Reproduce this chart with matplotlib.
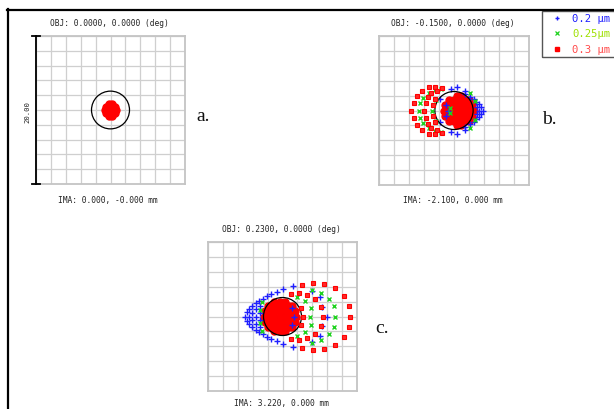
import matplotlib
matplotlib.use("Agg")
import matplotlib.pyplot as plt
from matplotlib.patches import Circle, Rectangle
from matplotlib.lines import Line2D

# ---------------------------------------------------------------- data (um)
# panel a: on-axis field, everything inside a tiny red spot
a_red_x = [0, 0.4, 0.2, -0.2, -0.4, -0.2, 0.2,
           0.8, 0.65, 0.25, -0.25, -0.65, -0.8, -0.65, -0.25, 0.25, 0.65]
a_red_y = [0, 0, 0.35, 0.35, 0, -0.35, -0.35,
           0, 0.47, 0.76, 0.76, 0.47, 0, -0.47, -0.76, -0.76, -0.47]

# panel b: field -0.15 deg
b_red_core_x = [-1.3, -0.65, 0, 0.65, 1.3, 1.95, 2.6,
                -1.15, -0.45, 0.25, 0.95, 1.65, 2.4,
                -1.15, -0.45, 0.25, 0.95, 1.65, 2.4,
                -0.7, 0, 0.7, 1.35, 2.0,
                -0.7, 0, 0.7, 1.35, 2.0,
                0.35, 0.95, 0.35, 0.95]
b_red_core_y = [0, 0, 0, 0, 0, 0, 0,
                0.7, 0.7, 0.7, 0.7, 0.7, 0.7,
                -0.7, -0.7, -0.7, -0.7, -0.7, -0.7,
                1.4, 1.4, 1.4, 1.4, 1.4,
                -1.4, -1.4, -1.4, -1.4, -1.4,
                1.95, 1.95, -1.95, -1.95]
b_red_x = [-5.75, -5.4, -5.4, -4.95, -4.95, -4.3, -4.3, -3.4, -3.4, -2.5, -2.5, -1.6, -1.6,
           -3.95, -3.75, -3.75, -3.5, -3.5, -3.05, -3.05, -2.25, -2.25,
           -2.8, -2.8, -2.5, -2.5]
b_red_y = [0, 1.0, -1.0, 1.9, -1.9, 2.65, -2.65, 3.15, -3.15, 3.2, -3.2, 3.05, -3.05,
           0, 0.95, -0.95, 1.8, -1.8, 2.4, -2.4, 2.6, -2.6,
           0.8, -0.8, 1.6, -1.6]
b_blue_x = [3.85, 3.6, 3.6, 3.3, 3.3, 3.35, 3.1, 3.1, 2.9, 2.9, 2.6, 2.6, 2.1, 2.1, 1.5, 1.5,
            -0.85, -1.05, -1.05, -1.85, -1.85, -0.45, -0.45, 0.35, 0.35, 1.5, 1.5]
b_blue_y = [0, 0.5, -0.5, 0.9, -0.9, 0, 0.45, -0.45, 1.15, -1.15, 1.5, -1.5, 1.85, -1.85, 2.15, -2.15,
            0, 0.8, -0.8, 1.6, -1.6, 2.9, -2.9, 3.1, -3.1, 2.65, -2.65]
b_green_x = [-4.65, -4.6, -4.6, -4.1, -4.1, -3.4, -3.4, -2.6, -2.6, -1.7, -1.7,
             -3.0, -2.85, -2.85, -2.35, -2.35, -0.55, -0.55, 2.15, 2.15, 2.75, 2.75]
b_green_y = [0, 0.95, -0.95, 1.7, -1.7, 2.3, -2.3, 2.75, -2.75, 2.95, -2.95,
             0, 0.75, -0.75, 1.35, -1.35, 0.4, -0.4, 2.3, -2.3, 1.3, -1.3]

# panel c: field 0.23 deg
c_red_core_x = [-2.5, -1.8, -1.1, -0.4, 0.3, 1.0, 1.75,
                -2.35, -1.65, -0.95, -0.25, 0.45, 1.15, 1.7,
                -2.35, -1.65, -0.95, -0.25, 0.45, 1.15, 1.7,
                -1.95, -1.25, -0.55, 0.15, 0.85, 1.3,
                -1.95, -1.25, -0.55, 0.15, 0.85, 1.3,
                -1.1, -0.4, 0.4, -1.1, -0.4, 0.4]
c_red_core_y = [0, 0, 0, 0, 0, 0, 0,
                0.7, 0.7, 0.7, 0.7, 0.7, 0.7, 0.7,
                -0.7, -0.7, -0.7, -0.7, -0.7, -0.7, -0.7,
                1.4, 1.4, 1.4, 1.4, 1.4, 1.4,
                -1.4, -1.4, -1.4, -1.4, -1.4, -1.4,
                2.0, 2.0, 2.0, -2.0, -2.0, -2.0]
c_red_x = [9.05, 8.9, 8.9, 8.2, 8.2, 7.1, 7.1, 5.6, 5.6, 4.05, 4.05, 2.6, 2.6,
           5.5, 5.2, 5.2, 4.4, 4.4, 3.25, 3.25, 2.15, 2.15, 1.1, 1.1,
           2.8, 2.5, 2.5]
c_red_y = [0, 1.45, -1.45, 2.8, -2.8, 3.8, -3.8, 4.4, -4.4, 4.5, -4.5, 4.2, -4.2,
           0, 1.25, -1.25, 2.3, -2.3, 2.95, -2.95, 3.15, -3.15, 3.05, -3.05,
           0, 1.2, -1.2]
c_blue_x = [-5.0, -4.8, -4.8, -4.5, -4.55, -4.55, -4.1, -4.1, -4.05, -4.05,
            -3.6, -3.6, -3.55, -3.5, -3.5, -3.1, -3.1, -3.05, -3.05, -3.0, -3.0,
            -2.6, -2.6, -2.1, -2.1, -1.5, -1.5, -0.8, -0.8, 0.1, 0.1,
            1.35, 1.35, 3.9, 3.9, 5.35, 5.35, 5.95, 1.6, 1.3, 1.3, 5.1, 5.1]
c_blue_y = [0, 0.55, -0.55, 0, 1.05, -1.05, 1.45, -1.45, 0.5, -0.5,
            1.85, -1.85, 0, 0.95, -0.95, 2.1, -2.1, 1.45, -1.45, 0.45, -0.45,
            2.4, -2.4, 2.75, -2.75, 3.0, -3.0, 3.25, -3.25, 3.65, -3.65,
            4.1, -4.1, 3.4, -3.4, 1.3, -1.3, 0, 0, 1.2, -1.2, 2.65, -2.65]
c_green_x = [7.05, 6.9, 6.9, 6.2, 6.2, 5.15, 5.15, 3.9, 3.9,
             3.75, 3.8, 3.8, 3.0, 3.0, 1.9, 1.9,
             -2.7, -2.7, -3.0, -3.0]
c_green_y = [0, 1.35, -1.35, 2.3, -2.3, 3.1, -3.1, 3.5, -3.5,
             0, 1.1, -1.1, 2.1, -2.1, 2.6, -2.6,
             1.9, -1.9, 0.9, -0.9]

airy_radius = 2.55
box_size = 20.0
obj_labels = ["OBJ: 0.0000, 0.0000 (deg)", "OBJ: -0.1500, 0.0000 (deg)", "OBJ: 0.2300, 0.0000 (deg)"]
ima_labels = ["IMA: 0.000, -0.000 mm", "IMA: -2.100, 0.000 mm", "IMA: 3.220, 0.000 mm"]
panel_tags = ["a.", "b.", "c."]
wavelengths = ["0.2 \u00b5m", "0.25\u00b5m", "0.3 \u00b5m"]

# ---------------------------------------------------------------- layout
W, H = 614, 410
fig = plt.figure(figsize=(W / 100, H / 100), dpi=100)
fig.patch.set_facecolor("white")


def fx(px):
    return px / W


def fy(py):
    return 1 - py / H


BLUE = "#1f1fff"
GREEN = "#1ed21e"
RED = "#ff0000"
MONO = "DejaVu Sans Mono"

# grid box pixel extents: left, top, right, bottom
boxes = [(36, 37, 185, 185), (379, 37, 529, 186), (208, 243, 357, 392)]
title_pos = [(109, 24), (453, 24), (281, 230)]
ima_pos = [(108, 201), (453, 201), (281, 404)]
tag_pos = [(196, 121), (542, 124), (375, 333)]

axes = []
for (l, t, r, b) in boxes:
    ax = fig.add_axes([fx(l), fy(b), (r - l) / W, (b - t) / H])
    half = box_size / 2
    ax.set_xlim(-half, half)
    ax.set_ylim(-half, half)
    ticks = [-10, -8, -6, -4, -2, 0, 2, 4, 6, 8, 10]
    ax.set_xticks(ticks)
    ax.set_yticks(ticks)
    ax.tick_params(length=0, labelbottom=False, labelleft=False)
    ax.grid(True, color="#cfcfcf", linewidth=0.9)
    ax.set_axisbelow(True)
    for sp in ax.spines.values():
        sp.set_color("#c4c4c4")
        sp.set_linewidth(1.3)
    ax.add_patch(Circle((0, 0), airy_radius, fill=False, edgecolor="black", linewidth=0.9, zorder=5))
    axes.append(ax)

ax_a, ax_b, ax_c = axes

ms_core = dict(marker="o", linestyle="none", color=RED, markersize=5.0, zorder=3)
ms_red = dict(marker="s", linestyle="none", markerfacecolor="#ff2a2a", markeredgecolor=RED,
              markersize=3.0, markeredgewidth=0.8, zorder=7)
ms_blue = dict(marker="+", linestyle="none", color=BLUE, markersize=3.8, markeredgewidth=1.0, zorder=4)
ms_green = dict(marker="x", linestyle="none", color=GREEN, markersize=3.0, markeredgewidth=1.0, zorder=6)

# panel a
ax_a.plot(a_red_x, a_red_y, **ms_core)
ax_a.plot([-10, -10], [-10, 10], color="black", linewidth=1.3, clip_on=False, zorder=8)
ax_a.plot([-10.6, -9.4], [10, 10], color="black", linewidth=1.3, clip_on=False, zorder=8)
ax_a.plot([-10.6, -9.4], [-10, -10], color="black", linewidth=1.3, clip_on=False, zorder=8)
fig.text(fx(27), fy(112), "20.00", rotation=90, ha="center", va="center",
         fontsize=5.2, family=MONO, color="#222222")

# panel b
ax_b.plot(b_red_core_x, b_red_core_y, **ms_core)
ax_b.plot(b_blue_x, b_blue_y, **ms_blue)
ax_b.plot(b_green_x, b_green_y, **ms_green)
ax_b.plot(b_red_x, b_red_y, **ms_red)

# panel c
ax_c.plot(c_red_core_x, c_red_core_y, **ms_core)
ax_c.plot(c_blue_x, c_blue_y, **ms_blue)
ax_c.plot(c_green_x, c_green_y, **ms_green)
ax_c.plot(c_red_x, c_red_y, **ms_red)

# labels around the boxes
for i in range(3):
    fig.text(fx(title_pos[i][0]), fy(title_pos[i][1]), obj_labels[i], ha="center", va="center",
             fontsize=5.7, family=MONO, color="#222222")
    fig.text(fx(ima_pos[i][0]), fy(ima_pos[i][1]), ima_labels[i], ha="center", va="center",
             fontsize=5.7, family=MONO, color="#222222")
    fig.text(fx(tag_pos[i][0]), fy(tag_pos[i][1]), panel_tags[i], ha="left", va="baseline",
             fontsize=14, family="Liberation Serif", color="#111111")

# frame lines
fig.add_artist(Line2D([fx(7.5), fx(7.5)], [fy(10), fy(410)], color="black", linewidth=1.6))
fig.add_artist(Line2D([fx(7), fx(614)], [fy(10.5), fy(10.5)], color="black", linewidth=1.6))

# legend box
fig.add_artist(Rectangle((fx(542), fy(58)), (620 - 542) / W, 46 / H, fill=False,
                         edgecolor="#555555", linewidth=1.0))
leg_y = [19, 34, 50]
leg_text_colors = [BLUE, "#9ee000", "#ff4a4a"]
leg_markers = [dict(marker="+", color=BLUE, markersize=3, markeredgewidth=1.0),
               dict(marker="x", color=GREEN, markersize=2.6, markeredgewidth=0.9),
               dict(marker="s", color=RED, markersize=2.6)]
for i in range(3):
    fig.add_artist(Line2D([fx(557)], [fy(leg_y[i])], linestyle="none", **leg_markers[i]))
    fig.text(fx(572), fy(leg_y[i]), wavelengths[i], ha="left", va="center",
             fontsize=7.6, family=MONO, color=leg_text_colors[i])

fig.savefig("out.png", dpi=100)
